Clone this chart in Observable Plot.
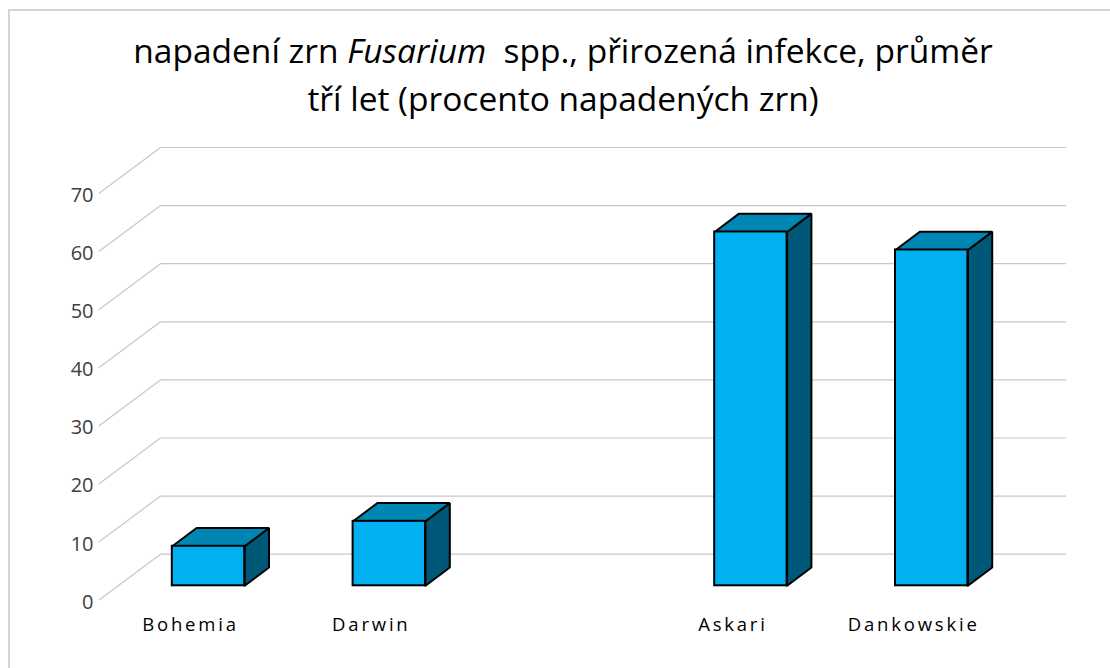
<!DOCTYPE html>
<html>
<head>
<meta charset="utf-8">
<script src="https://cdn.jsdelivr.net/npm/d3@7"></script>
<script src="https://cdn.jsdelivr.net/npm/@observablehq/plot@0.6"></script>
<style>
  html, body { margin: 0; padding: 0; background: #fff; }
  #frame { position: absolute; left: 8px; top: 9px; width: 1300px; height: 900px;
           border-left: 2px solid #d3d3d3; border-top: 2px solid #d3d3d3; box-sizing: border-box; }
  #chart { position: absolute; left: 0; top: 0; width: 1110px; }
  #title { height: 130px; box-sizing: border-box; padding-top: 26px; padding-left: 16px;
           text-align: center; font-family: 'Open Sans', sans-serif; font-size: 33.5px;
           line-height: 48px; color: #000; white-space: pre; }
  #chart svg { display: block; }
</style>
</head>
<body>
<div id="frame"></div>
<div id="chart">
  <div id="title">napadení zrn <i>Fusarium</i>  spp., přirozená infekce, průměr<br>tří let (procento napadených zrn)</div>
</div>
<script>
// ---- data ----
const categories = ["Bohemia", "Darwin", "", "Askari", "Dankowskie"];
const values = [6.8, 11.1, null, 60.9, 57.8];
const yTicks = [0, 10, 20, 30, 40, 50, 60, 70];

// ---- layout ----
const W = 1110, H = 538;
const mt = 48.6, mb = 82.7, ml = 117.6, mr = 88.4;
const pxX = (W - ml - mr) / 5;     // pixels per category slot
const pxY = (H - mt - mb) / 70;    // pixels per value unit
const ux = px => px / pxX;
const uy = px => px / pxY;

const half = ux(36.2);      // half width of bar front
const depX = ux(24.3);      // bar depth (x)
const depY = uy(18.3);      // bar depth (y)
const wallY = uy(31.6);     // back wall offset
const wallX1 = ux(160 - 208), wallX2 = ux(1066 - 208);
const frontX = ux(98.3 - 208), frontY = uy(14.4);
const labelX = ux(93 - 208);

const bars = categories.map((c, i) => ({c, i, val: values[i]})).filter(d => d.val != null);

const tops = [], sides = [];
for (const b of bars) {
  const x0 = b.i - half, x1 = b.i + half, v = b.val;
  [[x0, v], [x1, v], [x1 + depX, v + depY], [x0 + depX, v + depY], [x0, v]]
    .forEach(([x, y]) => tops.push({z: b.c, x, y}));
  [[x1, 0], [x1 + depX, depY], [x1 + depX, v + depY], [x1, v], [x1, 0]]
    .forEach(([x, y]) => sides.push({z: b.c, x, y}));
}

const chart = Plot.plot({
  width: W, height: H,
  marginTop: mt, marginBottom: mb, marginLeft: ml, marginRight: mr,
  x: {type: "linear", domain: [-0.5, 4.5], axis: null},
  y: {type: "linear", domain: [0, 70], axis: null},
  style: {fontFamily: "'Open Sans', sans-serif", background: "transparent", overflow: "visible"},
  marks: [
    Plot.ruleY(yTicks, {y: t => t + wallY, x1: () => wallX1, x2: () => wallX2, stroke: "#c8c8c8", strokeWidth: 1.2}),
    Plot.link(yTicks, {x1: () => frontX, y1: t => t - frontY, x2: () => wallX1, y2: t => t + wallY, stroke: "#c8c8c8", strokeWidth: 1.2}),
    Plot.text(yTicks, {x: () => labelX, y: t => t - frontY, text: t => String(t), textAnchor: "end", dy: 2, fontSize: 20, fill: "#404040"}),
    Plot.line(sides, {x: "x", y: "y", z: "z", fill: "#005878", stroke: "#000", strokeWidth: 2, strokeLinejoin: "miter"}),
    Plot.line(tops, {x: "x", y: "y", z: "z", fill: "#0086b3", stroke: "#000", strokeWidth: 2, strokeLinejoin: "miter"}),
    Plot.rect(bars, {x1: d => d.i - half, x2: d => d.i + half, y1: () => 0, y2: "val", fill: "#00b0f0", stroke: "#000", strokeWidth: 2}),
    Plot.text(categories.map((c, i) => ({c, i})), {x: "i", y: () => 0, text: "c", dx: -18, dy: 39, fontSize: 18.5, fill: "#000"})
  ]
});
// widen letter spacing of the category labels (last text mark)
const textGroups = chart.querySelectorAll('g[aria-label="text"]');
const catGroup = textGroups[textGroups.length - 1];
if (catGroup) catGroup.querySelectorAll("text").forEach(t => t.style.letterSpacing = "2.8px");
document.getElementById("chart").appendChild(chart);
</script>
</body>
</html>
